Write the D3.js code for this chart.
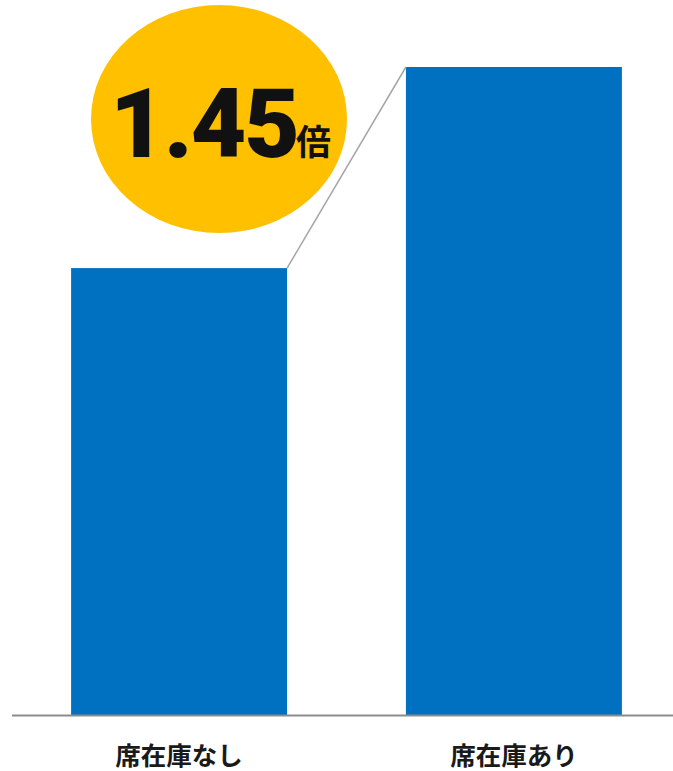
<!DOCTYPE html>
<html><head><meta charset="utf-8">
<script src="https://cdn.jsdelivr.net/npm/d3@7"></script>
<style>html,body{margin:0;padding:0;background:#fff;}</style>
</head><body>
<svg id="c" width="673" height="771"></svg>
<script>
const categories = ["席在庫なし", "席在庫あり"];
const values = [1, 1.45];
const ratioLabel = "1.45";
const ratioUnit = "倍";

const svg = d3.select("#c");
const x = d3.scaleBand().domain(categories).range([11.5, 681.5]).paddingInner(0.355).paddingOuter(0.178);
const y = d3.scaleLinear().domain([0, 1.45]).range([715, 67]);

svg.selectAll("rect.bar").data(values).enter().append("rect")
  .attr("class","bar")
  .attr("x",(d,i)=>x(categories[i]))
  .attr("y",d=>y(d))
  .attr("width",x.bandwidth())
  .attr("height",d=>y(0)-y(d))
  .attr("fill","#0070C0");

// baseline
svg.append("line").attr("x1",12).attr("x2",673).attr("y1",y(0)+0.5).attr("y2",y(0)+0.5)
  .attr("stroke","#8c8c8c").attr("stroke-width",2);

// connector line
svg.append("line")
  .attr("x1",x(categories[0])+x.bandwidth()).attr("y1",y(values[0]))
  .attr("x2",x(categories[1])).attr("y2",y(values[1]))
  .attr("stroke","#a6a6a6").attr("stroke-width",1.5);

// bubble
svg.append("ellipse").attr("cx",219).attr("cy",119).attr("rx",128).attr("ry",114).attr("fill","#FFC000");
svg.append("text").attr("x",110).attr("y",157)
  .attr("font-family","Roboto, sans-serif").attr("font-weight",900).attr("fill","#111")
  .attr("font-size",96).attr("letter-spacing",-2).text(ratioLabel);
svg.append("text").attr("x",296).attr("y",155)
  .attr("font-family","'Noto Sans CJK JP', sans-serif").attr("font-weight","bold").attr("fill","#111")
  .attr("font-size",35).text(ratioUnit);

// labels
svg.selectAll("text.lab").data(categories).enter().append("text")
  .attr("class","lab")
  .attr("x",d=>x(d)+x.bandwidth()/2).attr("y",765)
  .attr("text-anchor","middle").attr("font-family","'Noto Sans CJK JP', sans-serif")
  .attr("font-weight","bold").attr("font-size",25.5).attr("fill","#1a1a1a").text(d=>d);
</script>
</body></html>
